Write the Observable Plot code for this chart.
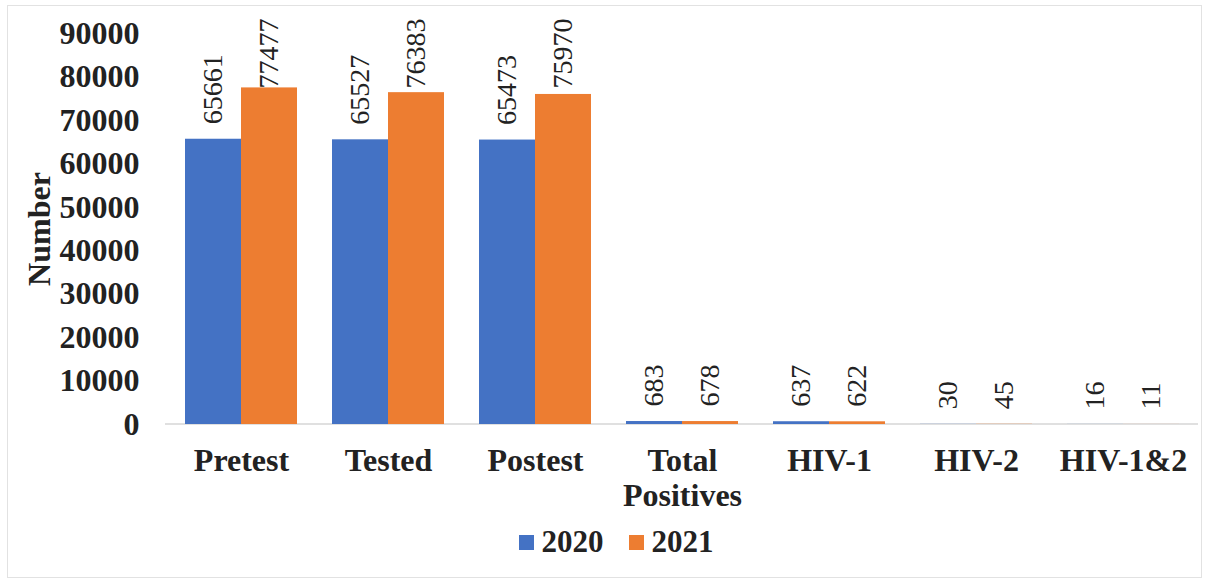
<!DOCTYPE html>
<html>
<head>
<meta charset="utf-8">
<script src="https://cdn.jsdelivr.net/npm/d3@7"></script>
<script src="https://cdn.jsdelivr.net/npm/@observablehq/plot@0.6"></script>
<style>
  html, body { margin: 0; padding: 0; background: #fff; }
  #wrap { position: relative; width: 1206px; height: 579px; overflow: hidden; }
  #frame { position: absolute; left: 7px; top: 5px; width: 1193px; height: 571px; border: 1px solid #e2e2e2; pointer-events: none; }
  #legend { display: flex; justify-content: center; align-items: center; gap: 25px; margin-top: 4px; padding-left: 26px;
            font-family: 'Liberation Serif', 'Times New Roman', serif; font-weight: bold; font-size: 31px; color: #222; }
  .item { display: flex; align-items: center; gap: 8px; }
  .sw { width: 15px; height: 15px; display: inline-block; }
</style>
</head>
<body>
<div id="wrap"><div id="chart"></div><div id="legend"></div><div id="frame"></div></div>
<script>
const categories = ["Pretest", "Tested", "Postest", "Total Positives", "HIV-1", "HIV-2", "HIV-1&2"];
const years = ["2020", "2021"];
const values2020 = [65661, 65527, 65473, 683, 637, 30, 16];
const values2021 = [77477, 76383, 75970, 678, 622, 45, 11];
const yTicks = [0, 10000, 20000, 30000, 40000, 50000, 60000, 70000, 80000, 90000];
const colors = ["#4472C4", "#ED7D31"];
const labelCap = 73900; // labels of tall bars are kept inside the plot area (as the spreadsheet does)

const data = categories.flatMap((c, i) => [
  {category: c, year: years[0], value: values2020[i]},
  {category: c, year: years[1], value: values2021[i]}
]);

const chart = Plot.plot({
  width: 1206,
  height: 520,
  marginLeft: 165,
  marginRight: 8,
  marginTop: 33,
  marginBottom: 96,
  style: {fontFamily: "'Liberation Serif', 'Times New Roman', serif", fontSize: "32px", fontWeight: "bold", color: "#222", background: "transparent"},
  fx: {domain: categories, paddingInner: 0.24, paddingOuter: 0.12, label: null},
  x: {domain: years, padding: 0, axis: null},
  y: {domain: [0, 90000]},
  color: {domain: years, range: colors},
  marks: [
    Plot.barY(data, {fx: "category", x: "year", y: "value", fill: "year"}),
    Plot.text(data, {fx: "category", x: "year", y: d => Math.min(d.value, labelCap), text: d => String(d.value),
      rotate: -90, textAnchor: "start", dy: -15, fontSize: 28, fontWeight: "normal", fill: "#222"}),
    Plot.axisY({ticks: yTicks, tickSize: 0, tickPadding: 46, tickFormat: d => String(d),
      label: "Number", labelAnchor: "center", labelOffset: 158, labelArrow: "none"}),
    Plot.axisFx({anchor: "bottom", tickSize: 0, tickPadding: 21, label: null, lineHeight: 1.1,
      tickFormat: d => d.replace(" ", "\n")})
  ]
});

// continuous baseline across all categories
const y0 = chart.scale("y").apply(0);
d3.select(chart).insert("line", "g")
  .attr("x1", 165).attr("x2", 1206 - 8)
  .attr("y1", y0).attr("y2", y0)
  .attr("stroke", "#d6d6d6").attr("stroke-width", 1.5);

document.getElementById("chart").appendChild(chart);

const color = chart.scale("color");
const legend = d3.select("#legend");
years.forEach(y => {
  const it = legend.append("div").attr("class", "item");
  it.append("span").attr("class", "sw").style("background", color.apply(y));
  it.append("span").text(y);
});
</script>
</body>
</html>
